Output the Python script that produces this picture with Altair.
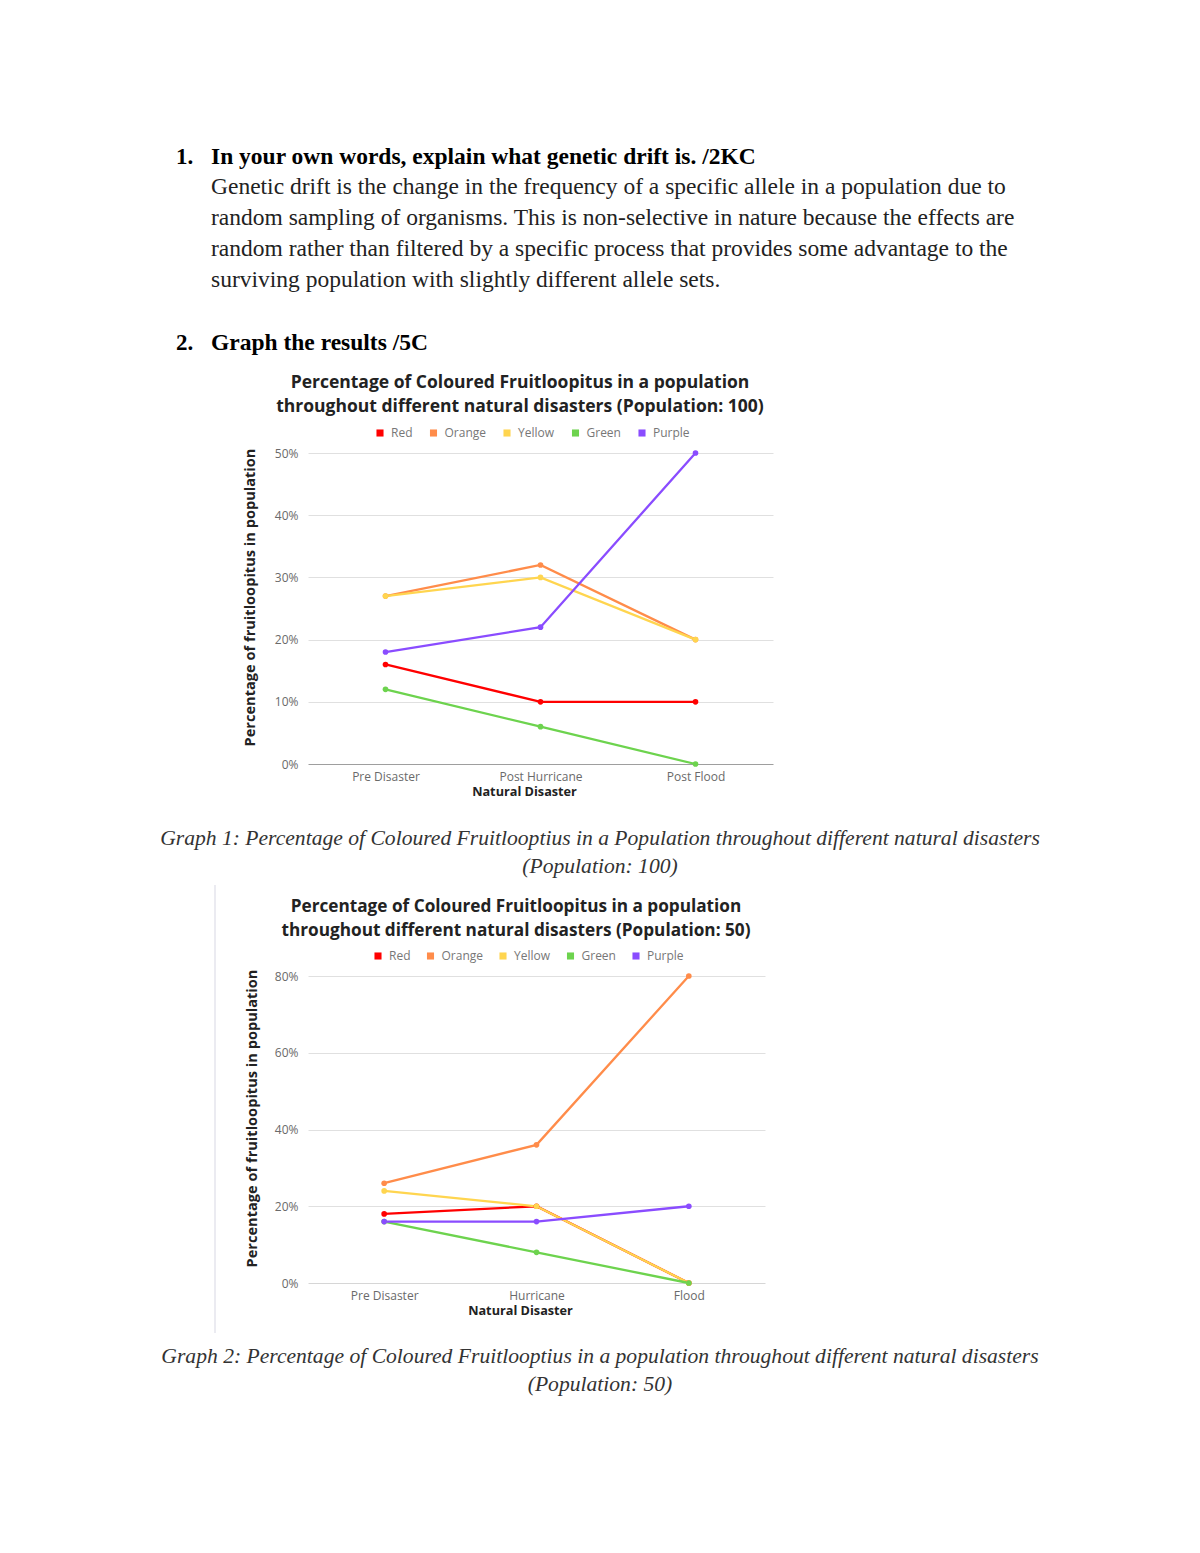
import altair as alt
import pandas as pd

# ---------------- data ----------------
colours = ["Red", "Orange", "Yellow", "Green", "Purple"]
palette = ["#ff0000", "#ff8c4a", "#ffd54f", "#6dd34e", "#8a4cff"]

stages_1 = ["Pre Disaster", "Post Hurricane", "Post Flood"]
red_1 = [16, 10, 10]
orange_1 = [27, 32, 20]
yellow_1 = [27, 30, 20]
green_1 = [12, 6, 0]
purple_1 = [18, 22, 50]
ticks_1 = [0, 10, 20, 30, 40, 50]

stages_2 = ["Pre Disaster", "Hurricane", "Flood"]
red_2 = [18, 20, 0]
orange_2 = [26, 36, 80]
yellow_2 = [24, 20, 0]
green_2 = [16, 8, 0]
purple_2 = [16, 16, 20]
ticks_2 = [0, 20, 40, 60, 80]

title_1 = ["Percentage of Coloured Fruitloopitus in a population",
           "throughout different natural disasters (Population: 100)"]
title_2 = ["Percentage of Coloured Fruitloopitus in a population",
           "throughout different natural disasters (Population: 50)"]
x_title = "Natural Disaster"
y_title = "Percentage of fruitloopitus in population"

heading_1 = "In your own words, explain what genetic drift is.  /2KC"
answer_lines = [
    "Genetic drift is the change in the frequency of a specific allele in a population due to",
    "random sampling of organisms. This is non-selective in nature because the effects are",
    "random rather than filtered by a specific process that provides some advantage to the",
    "surviving population with slightly different allele sets.",
]
heading_2 = "Graph the results /5C"
caption_1 = ["Graph 1: Percentage of Coloured Fruitlooptius in a Population throughout different natural disasters",
             "(Population: 100)"]
caption_2 = ["Graph 2: Percentage of Coloured Fruitlooptius in a population throughout different natural disasters",
             "(Population: 50)"]

SANS = "Open Sans"
SERIF = "Liberation Serif"
one = pd.DataFrame({"k": [0]})


def build_df(stages, series):
    rows = []
    for name, vals in zip(colours, series):
        for st, v in zip(stages, vals):
            rows.append({"stage": st, "pct": v, "colour": name})
    return pd.DataFrame(rows)


def text_mark(txt, x, y, size, font=SERIF, weight="normal", style="normal",
              color="#222222", align="left"):
    return alt.Chart(one).mark_text(
        font=font, fontSize=size, fontWeight=weight, fontStyle=style,
        color=color, align=align, baseline="middle"
    ).encode(x=alt.value(x), y=alt.value(y), text=alt.value(txt))


def make_chart(stages, series, ticks, width, height, titles, title_size, title_x, title_y,
               legend_x, legend_y, legend_gap, xtitle_x, ytitle_x, ytitle_y, base_color):
    df = build_df(stages, series)
    x_enc = alt.X("stage:N", sort=stages, scale=alt.Scale(padding=0.5),
                  axis=alt.Axis(labelAngle=0, domain=False, ticks=False, grid=False,
                                labelPadding=7, labelFont=SANS, labelFontSize=12,
                                labelColor="#6a6a6a", title=x_title, titleFont=SANS,
                                titleFontSize=12.7, titleFontWeight="bold",
                                titleColor="#222222", titlePadding=3, titleX=xtitle_x))
    y_enc = alt.Y("pct:Q", scale=alt.Scale(domain=[0, ticks[-1]], nice=False),
                  axis=alt.Axis(values=ticks, labelExpr="datum.value + '%'",
                                domain=False, ticks=False, labelPadding=10,
                                labelFont=SANS, labelFontSize=12, labelColor="#6a6a6a",
                                gridColor=alt.condition("datum.value === 0",
                                                        alt.value(base_color),
                                                        alt.value("#e0e0e0")),
                                title=y_title, titleFont=SANS, titleFontSize=14.6,
                                titleFontWeight="bold", titleColor="#222222",
                                titleX=ytitle_x, titleY=ytitle_y,
                                titleBaseline="middle"))
    c_scale = alt.Scale(domain=colours, range=palette)
    legend = alt.Legend(
        orient="none", legendX=legend_x, legendY=legend_y,
        direction="horizontal", title=None,
        symbolType="square", symbolSize=50,
        symbolStrokeWidth=0, symbolOpacity=1,
        labelFont=SANS, labelFontSize=12, labelColor="#777777",
        columnPadding=legend_gap, labelOffset=5, padding=0)
    lines = alt.Chart(df).mark_line(strokeWidth=2.3).encode(
        x=x_enc, y=y_enc,
        color=alt.Color("colour:N", sort=colours, scale=c_scale, legend=legend),
    )
    points = alt.Chart(df).mark_point(filled=True, size=32, opacity=1).encode(
        x=x_enc, y=y_enc,
        color=alt.Color("colour:N", sort=colours, scale=c_scale, legend=legend),
    )
    t1 = text_mark(titles[0], title_x, title_y, title_size, font=SANS, weight="bold",
                   align="center")
    t2 = text_mark(titles[1], title_x, title_y + 24, title_size, font=SANS, weight="bold",
                   align="center")
    return alt.layer(lines, points, t1, t2).properties(width=width, height=height)


# ---------------- header (question text) ----------------
page_bg = alt.Chart(one).mark_rect(color="white").encode(
    x=alt.value(-300), x2=alt.value(884), y=alt.value(0), y2=alt.value(1537))
side_rule = alt.Chart(one).mark_rule(color="#e4e4ec", strokeWidth=1.5).encode(
    x=alt.value(-93), y=alt.value(877), y2=alt.value(1325))

header_layers = [page_bg, side_rule,
                 text_mark("1.", -132, 149, 23, weight="bold", color="#000000"),
                 text_mark(heading_1, -97, 149, 23.5, weight="bold", color="#000000")]
for i, line in enumerate(answer_lines):
    header_layers.append(text_mark(line, -97, 179 + 31 * i, 23.5))
header_layers.append(text_mark("2.", -132, 335, 23, weight="bold", color="#000000"))
header_layers.append(text_mark(heading_2, -97, 335, 23.5, weight="bold", color="#000000"))
header = alt.layer(*header_layers).properties(width=465, height=445)

chart_1 = make_chart(stages_1, [red_1, orange_1, yellow_1, green_1, purple_1], ticks_1,
                     465, 311, title_1, 17.5, 212, -70, 66, -26, 14.5, 216, -58, 144, "#9e9e9e")

cap_1 = alt.layer(
    text_mark(caption_1[0], 292, 75, 21.6, style="italic", color="#333333", align="center"),
    text_mark(caption_1[1], 292, 103, 21.6, style="italic", color="#333333", align="center"),
).properties(width=465, height=212)

chart_2 = make_chart(stages_2, [red_2, orange_2, yellow_2, green_2, purple_2], ticks_2,
                     457, 307, title_2, 17.2, 208, -69, 64, -26, 13.5, 212, -56, 142, "#d6d6d6")

cap_2 = alt.layer(
    text_mark(caption_2[0], 292, 74, 21.6, style="italic", color="#333333", align="center"),
    text_mark(caption_2[1], 292, 102, 21.6, style="italic", color="#333333", align="center"),
).properties(width=465, height=262)

chart = alt.vconcat(
    header, chart_1, cap_1, chart_2, cap_2, spacing=0, bounds="flush"
).resolve_scale(color="independent").resolve_legend(color="independent").properties(
    padding=0, background="white", autosize=alt.AutoSizeParams(type="pad")
).configure_view(stroke=None, strokeWidth=0)

chart.save("out.html", embed_options={"renderer": "svg", "actions": False})
